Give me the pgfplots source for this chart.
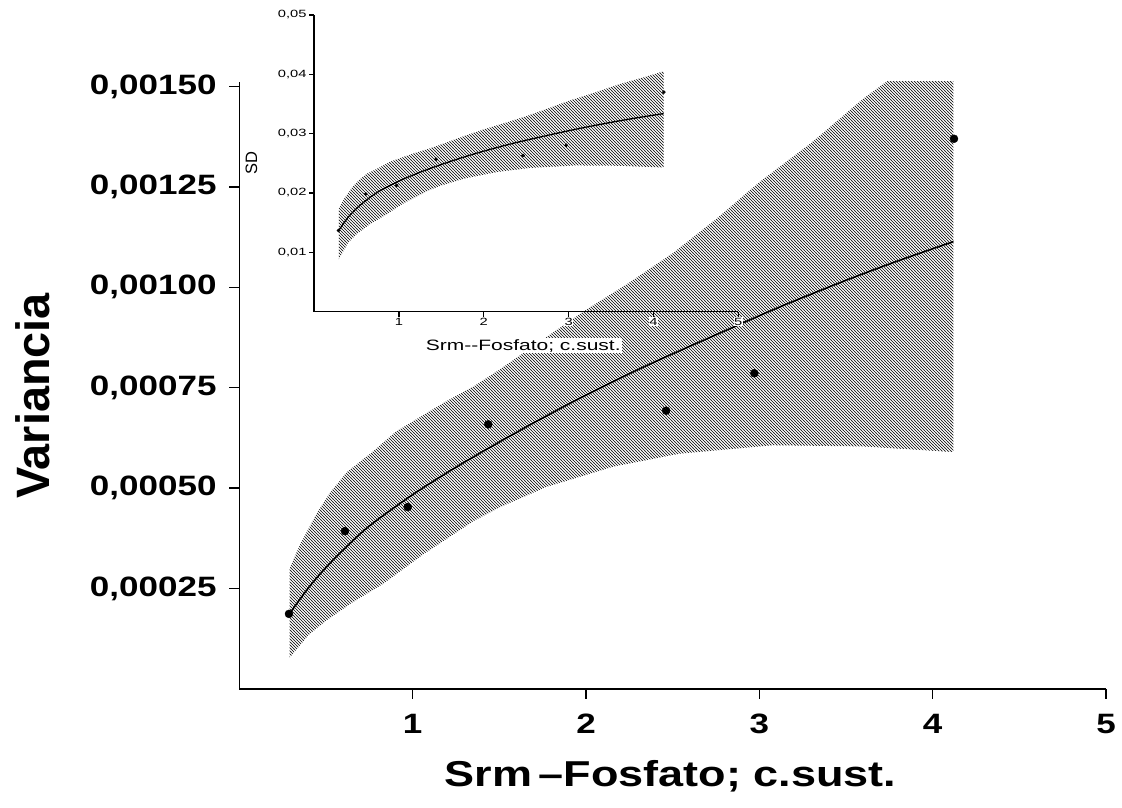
\documentclass[border=0pt]{standalone}
\usepackage{fontspec}
\setmainfont{Liberation Sans}
\newfontfamily\widesans[FakeStretch=1.25, Ligatures=TeX]{Liberation Sans}
\newfontfamily\insetsans[FakeStretch=1.4]{Liberation Sans}
\usepackage{pgfplots}
\pgfplotsset{compat=1.18}
\usetikzlibrary{patterns}

% dense diagonal hatching for the confidence bands
\pgfdeclarepatternformonly{densehatch}{\pgfqpoint{-1pt}{-1pt}}{\pgfqpoint{4pt}{4pt}}{\pgfqpoint{3pt}{3pt}}{%
  \pgfsetlinewidth{0.55pt}%
  \pgfpathmoveto{\pgfqpoint{-0.1pt}{3.1pt}}%
  \pgfpathlineto{\pgfqpoint{3.1pt}{-0.1pt}}%
  \pgfusepath{stroke}%
}

\begin{document}
\begin{tikzpicture}
% page frame, 1pt per pixel
\path[use as bounding box, fill=white] (-239.4pt,-119pt) rectangle (882.6pt,689pt);

% ---------------- main panel: variance ----------------
\begin{axis}[
  at={(0pt,0pt)}, anchor=south west,
  scale only axis, width=866.6pt, height=607pt,
  xmin=0, xmax=5, ymin=0, ymax=0.0015114,
  axis lines=left,
  axis line style={-, line width=1.5pt},
  tick style={line width=1.4pt, black},
  tick align=outside, major tick length=10pt,
  xtick={1,2,3,4,5},
  xticklabels={1,2,3,4,5},
  ytick={0.00025,0.0005,0.00075,0.001,0.00125,0.0015},
  yticklabels={{0,00025},{0,00050},{0,00075},{0,00100},{0,00125},{0,00150}},
  scaled y ticks=false, scaled x ticks=false,
  yticklabel style={font=\widesans\bfseries\fontsize{28}{30}\selectfont, inner sep=0pt},
  xticklabel style={font=\widesans\bfseries\fontsize{28}{30}\selectfont, inner sep=0pt},
  yticklabel shift=12.7pt,
  xticklabel shift=15pt,
  xlabel={Srm\hspace{6pt}\textendash Fosfato; c.sust.},
  ylabel={Variancia},
  xlabel style={font=\widesans\bfseries\fontsize{36}{40}\selectfont,
                at={(axis description cs:0.4975,-0.161)}, anchor=base},
  ylabel style={font=\bfseries\fontsize{46.8}{50}\selectfont,
                at={(axis description cs:-0.2186,0.4827)}, anchor=base},
  clip=true,
]
% confidence band of the fitted curve
\addplot[draw=none, pattern=densehatch, pattern color=black]
  coordinates {
  (0.29,0.000300)(0.35,0.000360)(0.45,0.000440)(0.52,0.000487)(0.62,0.000540)
  (0.77,0.000591)(0.9,0.000640)(1.08,0.000687)(1.2,0.000718)(1.35,0.000753)
  (1.5,0.000795)(1.75,0.000870)(2.0,0.000944)(2.25,0.001012)(2.5,0.001085)
  (2.75,0.001170)(3.0,0.001262)(3.3,0.001360)(3.6,0.001470)(3.9,0.001565)
  (4.12,0.001640)
  (4.12,0.000590)(3.6,0.000604)(3.08,0.000607)(2.54,0.000586)(2.16,0.000554)
  (1.77,0.000503)(1.5,0.000452)(1.35,0.000418)(1.06,0.000335)(0.83,0.000262)
  (0.65,0.000215)(0.5,0.000170)(0.4,0.000135)(0.29,0.000078)
  } -- cycle;
% fitted curve
\addplot[black, line width=1.6pt, smooth] coordinates {
  (0.29,0.000188)(0.4,0.0002528)(0.5,0.0003028)(0.6,0.0003467)(0.75,0.000406)
  (1.0,0.000484)(1.25,0.0005523)(1.5,0.000615)(1.75,0.000675)(2.0,0.0007317)
  (2.35,0.0008054)(2.75,0.000882)(3.12,0.0009517)(3.5,0.0010176)(3.8,0.001066)
  (4.12,0.001114)
};
% observations
\addplot[only marks, mark=*, mark size=4pt, mark options={fill=black, draw=black}] coordinates {
  (0.286,0.000187)(0.609,0.000393)(0.971,0.000453)(1.436,0.000659)
  (2.462,0.000693)(2.971,0.000786)(4.123,0.001370)
};
\end{axis}

% ---------------- inset: standard deviation ----------------
\begin{axis}[
  at={(74.8pt,377.4pt)}, anchor=south west,
  scale only axis, width=424pt, height=296.6pt,
  xmin=0, xmax=5, ymin=0, ymax=0.05,
  axis lines=left,
  axis line style={-, line width=1.4pt},
  tick style={line width=1.1pt, black},
  tick align=outside, major tick length=5pt,
  xtick={1,2,3,4,5},
  xticklabels={1,2,3,4,5},
  ytick={0.01,0.02,0.03,0.04,0.05},
  yticklabels={{0,01},{0,02},{0,03},{0,04},{0,05}},
  scaled y ticks=false, scaled x ticks=false,
  yticklabel style={font=\insetsans\fontsize{10.5}{12}\selectfont, inner sep=0.5pt},
  xticklabel style={font=\insetsans\fontsize{10.5}{12}\selectfont, inner sep=0.5pt, fill=white},
  yticklabel shift=2pt,
  xticklabel shift=0.5pt,
  xlabel={Srm-{}-Fosfato; c.sust.},
  ylabel={SD},
  xlabel style={font=\insetsans\fontsize{15}{17}\selectfont, fill=white, inner sep=1pt,
                at={(axis description cs:0.493,-0.1295)}, anchor=base},
  ylabel style={font=\fontsize{16.5}{18}\selectfont,
                at={(axis description cs:-0.148,0.501)}, anchor=center},
]
\addplot[draw=none, pattern=densehatch, pattern color=black]
  coordinates {
  (0.29,0.01732)(0.35,0.01897)(0.45,0.02098)(0.52,0.02207)(0.62,0.02324)
  (0.77,0.02431)(0.9,0.02530)(1.08,0.02621)(1.2,0.02680)(1.35,0.02744)
  (1.5,0.02820)(1.75,0.02950)(2.0,0.03072)(2.25,0.03181)(2.5,0.03294)
  (2.75,0.03421)(3.0,0.03552)(3.3,0.03688)(3.6,0.03834)(3.9,0.03956)
  (4.12,0.04050)
  (4.12,0.02429)(3.6,0.02458)(3.08,0.02464)(2.54,0.02421)(2.16,0.02354)
  (1.77,0.02243)(1.5,0.02126)(1.35,0.02045)(1.06,0.01830)(0.83,0.01619)
  (0.65,0.01466)(0.5,0.01304)(0.4,0.01162)(0.29,0.00883)
  } -- cycle;
\addplot[black, line width=1.3pt, smooth] coordinates {
  (0.29,0.01371)(0.4,0.01590)(0.5,0.01740)(0.6,0.01862)(0.75,0.02015)
  (1.0,0.02200)(1.25,0.02350)(1.5,0.02480)(1.75,0.02598)(2.0,0.02705)
  (2.35,0.02838)(2.75,0.02970)(3.12,0.03085)(3.5,0.03190)(3.8,0.03265)
  (4.12,0.03338)
};
\addplot[only marks, mark=*, mark size=1.6pt, mark options={fill=black, draw=black}] coordinates {
  (0.286,0.01367)(0.609,0.01982)(0.971,0.02128)(1.436,0.02567)
  (2.462,0.02632)(2.971,0.02804)(4.123,0.03701)
};
\end{axis}
\end{tikzpicture}
\end{document}
